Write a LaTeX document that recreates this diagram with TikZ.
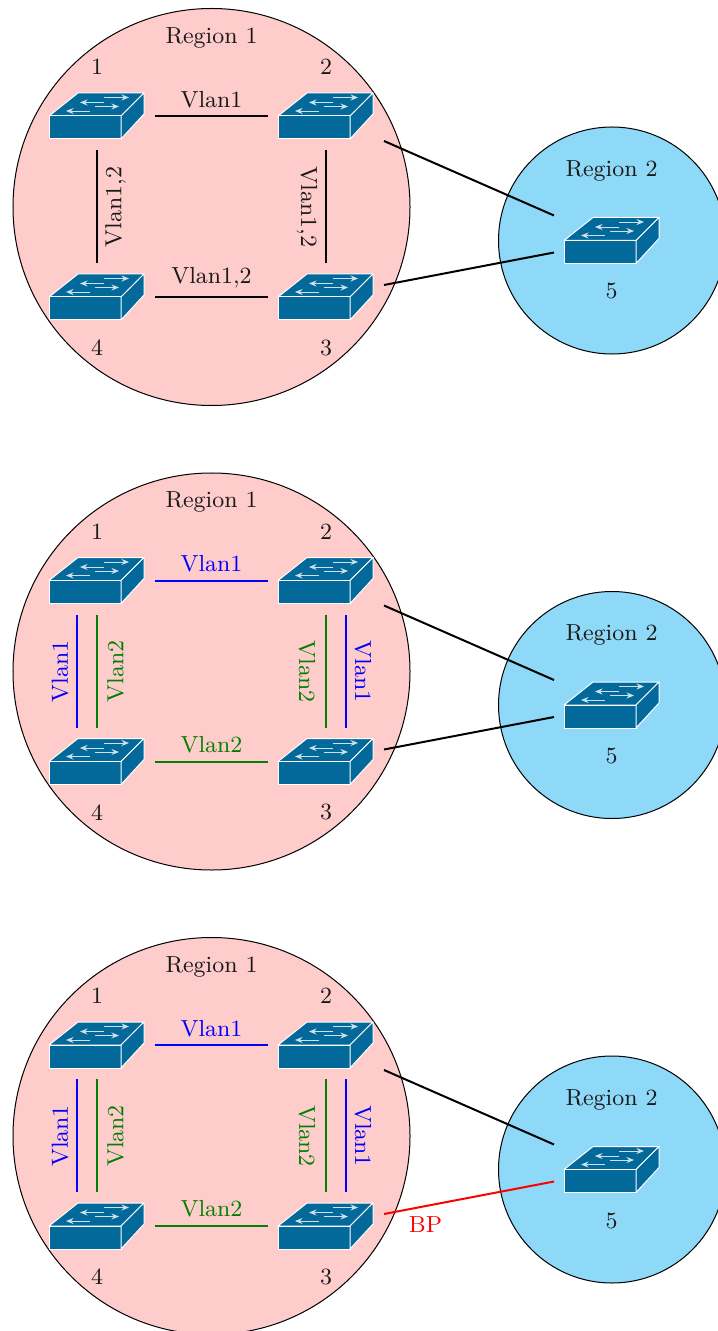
\documentclass[tikz,border=0pt]{standalone}
\usetikzlibrary{arrows.meta}
\definecolor{regionA}{HTML}{FFCCCC}
\definecolor{regionB}{HTML}{8ED8F8}
\definecolor{swblue}{HTML}{03699A}
\definecolor{vgreen}{rgb}{0,0.5,0}
\tikzset{
  every node/.append style={font=\fontsize{9.3pt}{11pt}\selectfont},
  regionc/.style={circle,draw=black,line width=0.4pt,inner sep=0pt},
  swbox/.style={rectangle,minimum width=46.4pt,minimum height=27.2pt,inner sep=0pt,outer sep=0pt},
  link/.style={line width=0.8pt,black},
  blink/.style={line width=0.8pt,blue},
  glink/.style={line width=0.8pt,vgreen},
  rlink/.style={line width=0.8pt,red},
  lab/.style={inner sep=0pt,text=black!90},
  blab/.style={inner sep=0pt,text=blue},
  glab/.style={inner sep=0pt,text=vgreen},
  rlab/.style={inner sep=0pt,text=red},
  swarrow/.style={white!80!swblue,line width=0.35pt,-{Stealth[length=3pt,width=2.4pt]}},
  switch/.pic={
    \path[fill=swblue,draw=white,line width=0.4pt,line join=round]
      (-48,0)--(24,0)--(47,-23)--(-19,-23)--cycle;
    \path[fill=swblue,draw=white,line width=0.4pt,line join=round]
      (-48,0) rectangle (24,23);
    \path[fill=swblue,draw=white,line width=0.4pt,line join=round]
      (24,0)--(47,-23)--(47,-2)--(24,23)--cycle;
    \draw[swarrow] (7,-18.5)--(32,-18.5);
    \draw[swarrow] (7,-13.5)--(-17,-13.5);
    \draw[swarrow] (-2,-9.5)--(22,-9.5);
    \draw[swarrow] (-7,-5)--(-31,-5);
  }
}
\begin{document}
\begin{tikzpicture}[x=0.4pt,y=-0.4pt]
\useasboundingbox (0,0) rectangle (718,1331);
\clip (0,0) rectangle (718,1331);
\foreach \p/\dy in {a/0,b/464.5,c/929}{
\begin{scope}[shift={(0,\dy)},name prefix=\p-]
  \node[regionc,fill=regionA,minimum size=158.8pt] (r1) at (211.5,207) {};
  \node[regionc,fill=regionB,minimum size=90.8pt] (r2) at (612,240.5) {};
  \node[lab] (t1) at (211.5,37.5) {Region 1};
  \node[lab] (t2) at (611.5,170.5) {Region 2};
  \node[lab] (n1) at (97,67) {1};
  \node[lab] (n2) at (326,67) {2};
  \node[lab] (n4) at (97,348) {4};
  \node[lab] (n3) at (326,348) {3};
  \node[lab] (n5) at (611.5,291.5) {5};
  \node[swbox] (s1) at (97,116) {};
  \node[swbox] (s2) at (326,116) {};
  \node[swbox] (s3) at (326,297) {};
  \node[swbox] (s4) at (97,297) {};
  \node[swbox] (s5) at (612,240.5) {};
  \pic at (s1) {switch};
  \pic at (s2) {switch};
  \pic at (s3) {switch};
  \pic at (s4) {switch};
  \pic at (s5) {switch};
\end{scope}
}
% panel 1
\draw[link] (a-s1.east) -- (a-s2.west);
\draw[link] (a-s4.east) -- (a-s3.west);
\draw[link] (a-s1.south) -- (a-s4.north);
\draw[link] (a-s2.south) -- (a-s3.north);
\node[lab] (a-l1) at (211.5,99.5) {Vlan1};
\node[lab] (a-l2) at (211.5,278) {Vlan1,2};
\node[lab,rotate=90] (a-l3) at (115.5,207) {Vlan1,2};
\node[lab,rotate=-90] (a-l4) at (307,207) {Vlan1,2};
\draw[link] ([yshift=-10pt]a-s2.east) -- ([yshift=10pt]a-s5.west);
\draw[link] ([yshift=4.8pt]a-s3.east) -- ([yshift=-4.8pt]a-s5.west);
% panels 2 and 3
\foreach \p/\dy in {b/464.5,c/929}{
  \draw[blink] (\p-s1.east) -- (\p-s2.west);
  \draw[glink] (\p-s4.east) -- (\p-s3.west);
  \draw[glink] (\p-s1.south) -- (\p-s4.north);
  \draw[blink] ([xshift=-8pt]\p-s1.south) -- ([xshift=-8pt]\p-s4.north);
  \draw[glink] (\p-s2.south) -- (\p-s3.north);
  \draw[blink] ([xshift=8pt]\p-s2.south) -- ([xshift=8pt]\p-s3.north);
  \draw[link] ([yshift=-10pt]\p-s2.east) -- ([yshift=10pt]\p-s5.west);
  \begin{scope}[shift={(0,\dy)},name prefix=\p-]
    \node[blab] (l1) at (211.5,99.5) {Vlan1};
    \node[glab] (l2) at (211.5,280) {Vlan2};
    \node[blab,rotate=90] (l3) at (60,207) {Vlan1};
    \node[glab,rotate=90] (l4) at (115.5,207) {Vlan2};
    \node[glab,rotate=-90] (l5) at (307,207) {Vlan2};
    \node[blab,rotate=-90] (l6) at (363,207) {Vlan1};
  \end{scope}
}
\draw[link] ([yshift=4.8pt]b-s3.east) -- ([yshift=-4.8pt]b-s5.west);
\draw[rlink] ([yshift=4.8pt]c-s3.east) -- ([yshift=-4.8pt]c-s5.west);
\node[rlab] (bp) at (425.5,1224.5) {BP};
\end{tikzpicture}
\end{document}
